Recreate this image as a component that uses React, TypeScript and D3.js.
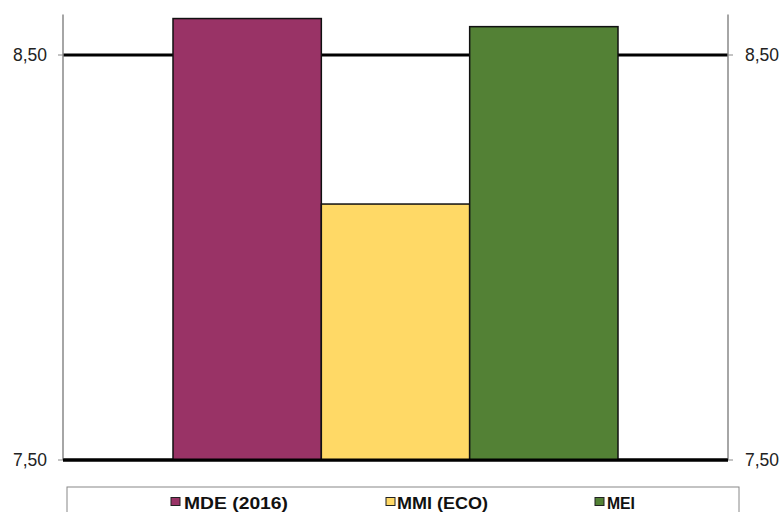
import React from "react";
import * as d3 from "d3";

const seriesNames = ["MDE (2016)", "MMI (ECO)", "MEI"];
const seriesValues = [8.59, 8.132, 8.57];
const seriesColors = ["#993366", "#FFD966", "#538135"];
const tickValues = [7.5, 8.5];
const tickLabels = ["7,50", "8,50"];

const W = 781;
const H = 512;
const left = 63;
const right = 728;
const top = 14.5;
const bottom = 460;

const legendMarkerX = [171, 386, 595];
const legendTextX = [184, 397, 607];
const legendTextW = [104, 91, 28];

export default function App() {
  const y = d3.scaleLinear().domain([7.5, 8.6]).range([bottom, top]);
  const x = d3
    .scaleBand<string>()
    .domain(seriesNames)
    .range([left + 110, right - 110])
    .padding(0);

  return (
    <svg
      width={W}
      height={H}
      style={{ position: "absolute", left: 0, top: 0, background: "#fff" }}
      fontFamily="'Liberation Sans', Arial, sans-serif"
    >
      {tickValues.map((t) => (
        <line
          key={"g" + t}
          x1={left}
          x2={right}
          y1={y(t)}
          y2={y(t)}
          stroke="#000"
          strokeWidth={3}
        />
      ))}
      {seriesNames.map((s, i) => (
        <rect
          key={s}
          x={x(s)}
          y={y(seriesValues[i])}
          width={x.bandwidth()}
          height={y(7.5) - y(seriesValues[i])}
          fill={seriesColors[i]}
          stroke="#111"
          strokeWidth={1.5}
        />
      ))}
      <line x1={left} x2={left} y1={top} y2={bottom} stroke="#888" strokeWidth={1.5} />
      <line x1={right} x2={right} y1={top} y2={bottom} stroke="#888" strokeWidth={1.5} />
      <line x1={left} x2={right} y1={bottom} y2={bottom} stroke="#000" strokeWidth={3} />
      {tickValues.map((t, i) => (
        <g key={"t" + t}>
          <line x1={left - 5} x2={left} y1={y(t)} y2={y(t)} stroke="#888" strokeWidth={1} />
          <line x1={right} x2={right + 5} y1={y(t)} y2={y(t)} stroke="#888" strokeWidth={1} />
          <text x={47} y={y(t)} dy="0.36em" textAnchor="end" fontSize={17.5} fill="#222">
            {tickLabels[i]}
          </text>
          <text x={745} y={y(t)} dy="0.36em" textAnchor="start" fontSize={17.5} fill="#222">
            {tickLabels[i]}
          </text>
        </g>
      ))}
      <rect x={67} y={487} width={672} height={40} fill="#fff" stroke="#888" strokeWidth={1} />
      {seriesNames.map((s, i) => (
        <g key={"l" + s}>
          <rect
            x={legendMarkerX[i]}
            y={497.5}
            width={9}
            height={8}
            fill={seriesColors[i]}
            stroke="#222"
            strokeWidth={1}
          />
          <text
            x={legendTextX[i]}
            y={509}
            fontSize={16.5}
            fontWeight="bold"
            fill="#111"
            textLength={legendTextW[i]}
            lengthAdjust="spacingAndGlyphs"
          >
            {s}
          </text>
        </g>
      ))}
    </svg>
  );
}
